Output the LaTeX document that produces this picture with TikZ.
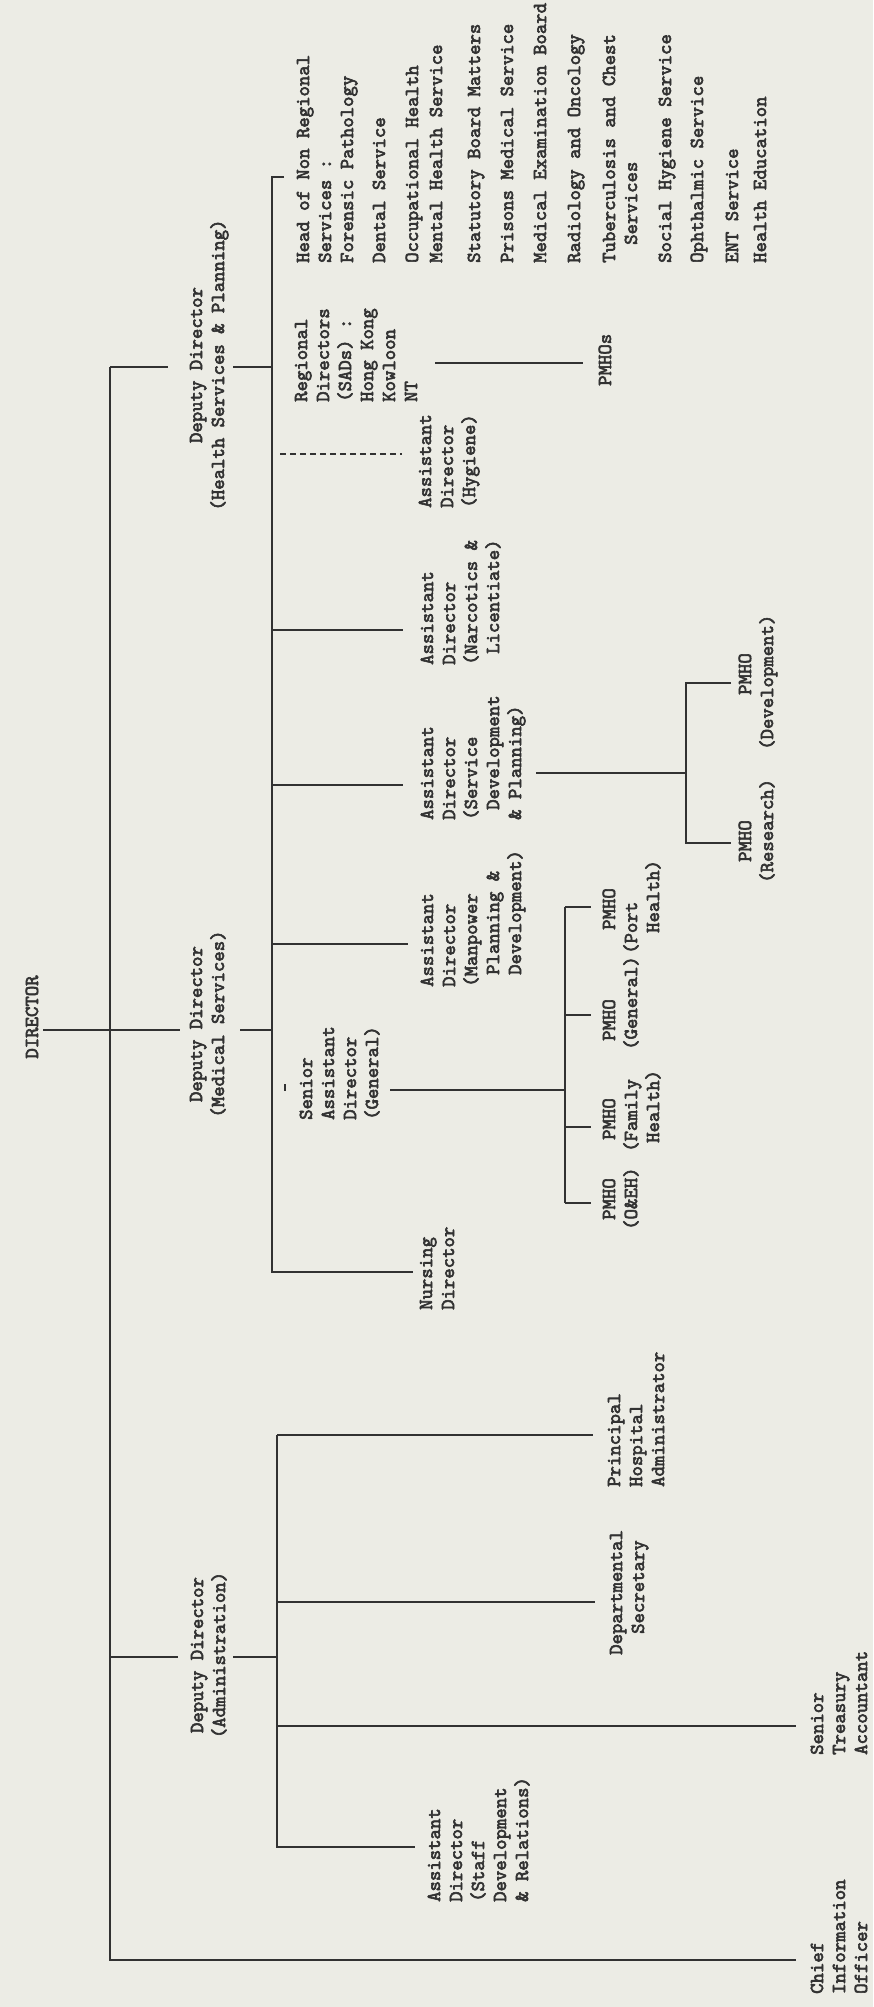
\documentclass[tikz,border=0pt]{standalone}
\usepackage{fontspec}
\setmonofont{lmmono10-regular.otf}[FakeBold=3]
\definecolor{paper}{RGB}{236,236,229}
\definecolor{ink}{RGB}{50,50,50}
\tikzset{
  post/.style={rotate=90, anchor=base west, align=left, inner sep=0pt, text=ink,
    font=\ttfamily\fontsize{19.8}{22}\selectfont},
  postc/.style={post, anchor=base, align=center},
  link/.style={draw=ink, line width=1.3pt},
}
\newcommand{\indt}[1]{\hspace*{#1pt}}
\begin{document}
\begin{tikzpicture}[x=1pt, y=-1pt]
  \fill[paper] (0,0) rectangle (873,2007);
  % nodes sit on the baseline of their last line
  \node[postc] (dir) at (38,1017) {DIRECTOR};
  \node[postc] (ddhs) at (224,365) {Deputy Director\\(Health Services \& Planning)};
  \node[postc] (ddms) at (224,1024) {Deputy Director\\(Medical Services)};
  \node[postc] (ddad) at (225,1655) {Deputy Director\\(Administration)};
  % health services and medical services
  \node[post] (regdir) at (417,402) {Regional\\Directors\\(SADs) :\\Hong Kong\\Kowloon\\NT};
  \node[post] (nonreg) at (353,263) {Head of Non Regional\\Services :\\Forensic Pathology};
  \foreach \bx/\txt [count=\i] in {385/Dental Service, 418/Occupational Health,
      442/Mental Health Service, 480/Statutory Board Matters,
      513/Prisons Medical Service, 546/Medical Examination Board,
      580/Radiology and Oncology, 637/{Tuberculosis and Chest\\\indt{18}Services},
      671/Social Hygiene Service, 703/Ophthalmic Service,
      738/ENT Service, 766/Health Education}
    \node[post] (svc\i) at (\bx,263) {\txt};
  \node[post] (adhyg) at (475,508) {Assistant\\Director\\(Hygiene)};
  \node[post] (adnarc) at (499,665) {Assistant\\Director\\(Narcotics \&\\\indt{11}Licentiate)};
  \node[post] (adsdp) at (521,820) {Assistant\\Director\\(Service\\\indt{10}Development\\\& Planning)};
  \node[post] (admpd) at (521,987) {Assistant\\Director\\(Manpower\\\indt{12}Planning \&\\\indt{12}Development)};
  \node[post] (sad) at (378,1120) {Senior\\Assistant\\Director\\(General)};
  \node[post] (nurse) at (454,1310) {Nursing\\Director};
  \node[post] (pmhos) at (611,386) {PMHOs};
  \node[post] (pmdev) at (773,750) {\indt{55}PMHO\\(Development)};
  \node[post] (pmres) at (773,883) {\indt{21}PMHO\\(Research)};
  \node[post] (pmport) at (659,954) {\indt{24}PMHO\\(Port\\\indt{21}Health)};
  \node[post] (pmgen) at (637,1050) {\indt{9}PMHO\\(General)};
  \node[post] (pmfam) at (659,1152) {\indt{12}PMHO\\(Family\\\indt{9}Health)};
  \node[post] (pmoeh) at (637,1230) {\indt{10}PMHO\\(O\&EH)};
  % administration
  \node[post] (pha) at (664,1487) {Principal\\Hospital\\Administrator};
  \node[post] (dsec) at (644,1655) {Departmental\\\indt{21}Secretary};
  \node[post] (sta) at (867,1755) {Senior\\Treasury\\Accountant};
  \node[post] (adstaff) at (528,1902) {Assistant\\Director\\(Staff\\Development\\\& Relations)};
  \node[post] (cio) at (867,1994) {Chief\\Information\\Officer};
  % junction points
  \coordinate (spT) at (110,367);
  \coordinate (spB) at (110,1960);
  \coordinate (cioE) at (796,1960);
  \coordinate (hsL) at (168,367);
  \coordinate (hsR) at (233,367);
  \coordinate (dirL) at (43,1030);
  \coordinate (dirR) at (180,1030);
  \coordinate (msR) at (240,1030);
  \coordinate (adS) at (110,1657);
  \coordinate (adL) at (178,1657);
  \coordinate (adR) at (233,1657);
  \coordinate (barT) at (272,177);
  \coordinate (barB) at (272,1272);
  \coordinate (nrgE) at (284,177);
  \coordinate (hygL) at (280,454);
  \coordinate (hygE) at (402,454);
  \coordinate (narcE) at (403,630);
  \coordinate (sdpE) at (403,785);
  \coordinate (mpdE) at (408,944);
  \coordinate (nurE) at (413,1272);
  \coordinate (sadA) at (285,1084);
  \coordinate (sadB) at (285,1091);
  \coordinate (rdL) at (435,363);
  \coordinate (rdR) at (583,363);
  \coordinate (sadL) at (390,1090);
  \coordinate (qbT) at (565,907);
  \coordinate (qbB) at (565,1203);
  \coordinate (sdpL) at (536,773);
  \coordinate (rbT) at (686,683);
  \coordinate (rbB) at (686,843);
  \coordinate (abT) at (277,1435);
  \coordinate (abB) at (277,1847);
  \begin{scope}[link]
    \draw (spT) -- (spB) -- (cioE);
    \draw (spT) -- (hsL);
    \draw (hsR) -- (spT -| barT);
    \draw (dirL) -- (dirR);
    \draw (msR) -- (msR -| barT);
    \draw (adS) -- (adL);
    \draw (adR) -- (adR -| abT);
    \draw (nrgE) -- (barT) -- (barB) -- (nurE);
    \draw[dash pattern=on 6pt off 4pt] (hygL) -- (hygE);
    \draw (narcE -| barT) -- (narcE);
    \draw (sdpE -| barT) -- (sdpE);
    \draw (mpdE -| barT) -- (mpdE);
    \draw (sadA) -- (sadB);
    \draw (rdL) -- (rdR);
    \draw (sadL) -- (sadL -| qbT);
    \draw (qbT) -- (qbB);
    \foreach \ty in {907,1015,1127,1203}
      \draw (565,\ty) -- (591,\ty);
    \draw (sdpL) -- (sdpL -| rbT);
    \draw (731,683) -- (rbT) -- (rbB) -- (731,843);
    \draw (abT) -- (abB) -- (415,1847);
    \draw (abT) -- (593,1435);
    \draw (277,1602) -- (595,1602);
    \draw (277,1726) -- (796,1726);
  \end{scope}
\end{tikzpicture}
\end{document}
